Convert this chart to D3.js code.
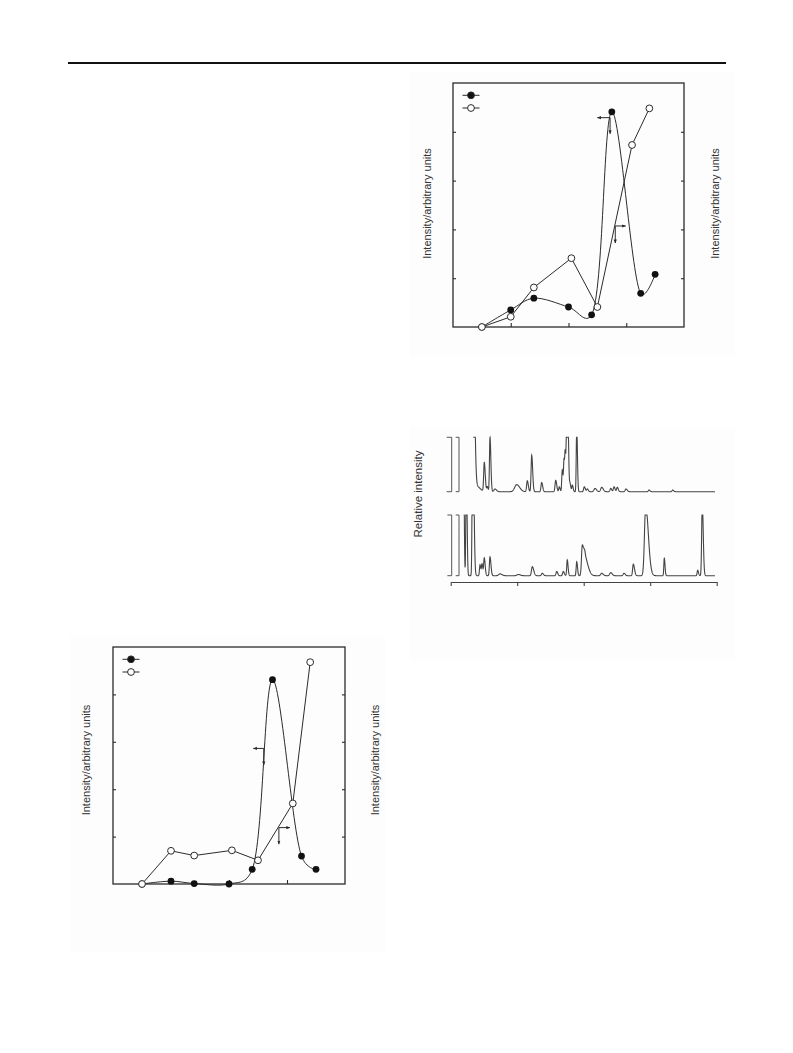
<!DOCTYPE html>
<html><head><meta charset="utf-8">
<script src="https://cdn.jsdelivr.net/npm/d3@7"></script>
<style>body{margin:0;background:#fff} svg{display:block}</style>
</head><body>
<script>
// ================= DATA =================
const xTickValues = [1, 2, 3];
const yTickValues = [1, 2, 3, 4];
const xDomain = [0, 4];
const yDomain = [0, 5];

const filledX = [0.5, 1.0, 1.4, 2.0, 2.4, 2.75, 3.25, 3.5];
const openX   = [0.5, 1.0, 1.4, 2.05, 2.5, 3.1, 3.4];

// upper-right panel
const panelAFilled = [0, 0.35, 0.59, 0.41, 0.25, 4.41, 0.69, 1.08];
const panelAOpen   = [0, 0.21, 0.81, 1.41, 0.41, 3.73, 4.48];
// lower-left panel
const panelBFilled = [0, 0.06, 0.01, 0, 0.31, 4.31, 0.59, 0.31];
const panelBOpen   = [0, 0.70, 0.60, 0.71, 0.50, 1.70, 4.68];

const axisLabel = "Intensity/arbitrary units";
const chromLabel = "Relative intensity";
const chromTicks = [0, 10, 20, 30, 40];

// chromatogram peaks: [retention, relative height, width, tail factor]
const upperPeaks = [
  [3.40, 3.0, 0.08, 2.5], [3.7, 0.12, 0.4, 1.5],
  [5.05, 0.53, 0.09, 1.6], [5.50, 0.09, 0.08, 1.5], [5.91, 1.0, 0.08, 1.6],
  [6.66, 0.05, 0.15, 1.5], [9.92, 0.13, 0.3, 1.5], [11.52, 0.20, 0.1, 1.5],
  [12.18, 0.67, 0.09, 1.6], [13.68, 0.17, 0.1, 1.5], [15.79, 0.21, 0.1, 1.5],
  [16.33, 0.09, 0.08, 1.5], [16.78, 0.40, 0.08, 1.5], [17.04, 0.55, 0.07, 1.5],
  [17.23, 0.65, 0.07, 1.5], [17.44, 1.2, 0.07, 1.5], [17.64, 1.2, 0.07, 1.5],
  [17.94, 0.15, 0.08, 1.5], [18.29, 0.12, 0.08, 1.5], [18.95, 1.2, 0.07, 1.5],
  [20.09, 0.09, 0.1, 1.5], [20.54, 0.05, 0.1, 1.5], [21.70, 0.06, 0.15, 1.5],
  [22.71, 0.08, 0.15, 1.5], [24.06, 0.06, 0.1, 1.5], [24.56, 0.09, 0.1, 1.5],
  [25.05, 0.08, 0.1, 1.5], [26.36, 0.05, 0.12, 1.5], [29.82, 0.03, 0.1, 1.5],
  [33.38, 0.03, 0.1, 1.5]
];
const upperBrackets = [[-0.6, 0.15], [0.75, 1.25]];
const upperEnd = 39.74;

const lowerPeaks = [
  [1.95, 2.0, 0.07, 1.2], [2.35, 2.0, 0.07, 1.5],
  [3.31, 3.0, 0.08, 2.0], [4.41, 0.18, 0.08, 1.5], [4.71, 0.19, 0.08, 1.5],
  [5.05, 0.29, 0.09, 1.5], [5.91, 0.31, 0.09, 1.6], [7.41, 0.03, 0.2, 1.5],
  [10.17, 0.02, 0.2, 1.5], [12.27, 0.15, 0.12, 1.8], [13.77, 0.04, 0.12, 1.5],
  [15.94, 0.07, 0.1, 1.5], [16.93, 0.07, 0.1, 1.5], [17.53, 0.26, 0.08, 1.5],
  [18.95, 0.23, 0.08, 1.5], [19.79, 0.50, 0.12, 2.0], [20.20, 0.28, 0.15, 3.0],
  [22.71, 0.04, 0.15, 1.5], [24.06, 0.05, 0.15, 1.5], [26.06, 0.04, 0.12, 1.5],
  [27.46, 0.19, 0.1, 1.8], [29.32, 1.15, 0.18, 2.2], [32.12, 0.29, 0.07, 1.5],
  [37.14, 0.09, 0.08, 1.5], [37.83, 1.2, 0.09, 1.6]
];
const lowerBrackets = [[-0.5, 0.15], [0.75, 1.25]];
const lowerEnd = 39.74;

// ================= DRAWING =================
const W = 793, H = 1053;
const svg = d3.select("body").append("svg").attr("width", W).attr("height", H)
  .style("font-family", "'Liberation Sans', Arial, sans-serif");

const ink = "#2b2b2b";

const defs = svg.append("defs");
defs.append("marker").attr("id", "ah").attr("viewBox", "0 0 10 10")
  .attr("refX", 9).attr("refY", 5).attr("markerWidth", 4).attr("markerHeight", 4)
  .attr("orient", "auto").append("path").attr("d", "M0,1 L10,5 L0,9 Z").attr("fill", ink);

// faint scanned backgrounds
const bgs = [[410, 72, 325, 285], [410, 427, 325, 233], [70, 636, 315, 316]];
svg.selectAll("rect.bg").data(bgs).join("rect").attr("class", "bg")
  .attr("x", d => d[0]).attr("y", d => d[1]).attr("width", d => d[2]).attr("height", d => d[3])
  .attr("fill", "#fdfdfd");

// header rule
svg.append("rect").attr("x", 68).attr("y", 62).attr("width", 658).attr("height", 2).attr("fill", "#111");

function drawPanel(cfg) {
  const g = svg.append("g");
  const x = d3.scaleLinear().domain(xDomain).range([cfg.left, cfg.left + cfg.width]);
  const y = d3.scaleLinear().domain(yDomain).range([cfg.top + cfg.height, cfg.top]);

  g.append("rect").attr("x", cfg.left).attr("y", cfg.top).attr("width", cfg.width).attr("height", cfg.height)
    .attr("fill", "none").attr("stroke", ink).attr("stroke-width", 1.3);

  const ax = g.append("g").attr("transform", `translate(0,${cfg.top + cfg.height})`)
    .call(d3.axisBottom(x).tickValues(xTickValues).tickSize(-4).tickSizeOuter(0).tickFormat(""));
  const ayR = g.append("g").attr("transform", `translate(${cfg.left + cfg.width},0)`)
    .call(d3.axisRight(y).tickValues(yTickValues).tickSize(-3).tickSizeOuter(0).tickFormat(""));
  const ayL = g.append("g").attr("transform", `translate(${cfg.left},0)`)
    .call(d3.axisLeft(y).tickValues(yTickValues).tickSize(-3).tickSizeOuter(0).tickFormat(""));
  [ax, ayR, ayL].forEach(a => { a.select(".domain").remove(); a.selectAll("line").attr("stroke", ink).attr("stroke-width", 1.1); });

  const fPts = filledX.map((v, i) => [v, cfg.filled[i]]);
  const oPts = openX.map((v, i) => [v, cfg.open[i]]);

  g.append("path").datum(oPts)
    .attr("d", d3.line().x(d => x(d[0])).y(d => y(d[1])))
    .attr("fill", "none").attr("stroke", ink).attr("stroke-width", 1);
  g.append("path").datum(fPts)
    .attr("d", d3.line().x(d => x(d[0])).y(d => y(d[1])).curve(d3.curveCatmullRom.alpha(0.3)))
    .attr("fill", "none").attr("stroke", ink).attr("stroke-width", 1);

  g.selectAll("circle.f").data(fPts).join("circle").attr("class", "f")
    .attr("cx", d => x(d[0])).attr("cy", d => y(d[1])).attr("r", 3.4).attr("fill", "#111");
  g.selectAll("circle.o").data(oPts).join("circle").attr("class", "o")
    .attr("cx", d => x(d[0])).attr("cy", d => y(d[1])).attr("r", 3.4)
    .attr("fill", "#fff").attr("stroke", ink).attr("stroke-width", 1);

  cfg.arrows.forEach(a => {
    g.append("line").attr("x1", x(a.x0)).attr("y1", y(a.y0)).attr("x2", x(a.x1)).attr("y2", y(a.y0))
      .attr("stroke", ink).attr("stroke-width", 1).attr("marker-end", "url(#ah)");
    g.append("line").attr("x1", x(a.x0)).attr("y1", y(a.y0)).attr("x2", x(a.x0)).attr("y2", y(a.y1))
      .attr("stroke", ink).attr("stroke-width", 1).attr("marker-end", "url(#ah)");
  });

  const lx = cfg.left + 18, ly = [cfg.top + 12.3, cfg.top + 25];
  [0, 1].forEach(i => {
    g.append("line").attr("x1", lx - 8.5).attr("x2", lx + 8.5).attr("y1", ly[i]).attr("y2", ly[i])
      .attr("stroke", ink).attr("stroke-width", 1);
    g.append("circle").attr("cx", lx).attr("cy", ly[i]).attr("r", 3.4)
      .attr("fill", i === 0 ? "#111" : "#fff").attr("stroke", ink).attr("stroke-width", 1);
  });

  [cfg.labelL, cfg.labelR].forEach(px => {
    g.append("text").attr("transform", `translate(${px},${cfg.labelY}) rotate(-90)`)
      .attr("text-anchor", "middle").attr("dy", "0.35em").attr("font-size", 11).attr("fill", "#333")
      .text(axisLabel);
  });
}

drawPanel({
  left: 453, top: 83, width: 231, height: 244,
  filled: panelAFilled, open: panelAOpen,
  arrows: [{x0: 2.72, x1: 2.5, y0: 4.29, y1: 3.96}, {x0: 2.81, x1: 2.99, y0: 2.07, y1: 1.72}],
  labelL: 426.7, labelR: 715, labelY: 203.5
});
drawPanel({
  left: 113, top: 647, width: 232, height: 237,
  filled: panelBFilled, open: panelBOpen,
  arrows: [{x0: 2.6, x1: 2.42, y0: 2.86, y1: 2.51}, {x0: 2.86, x1: 3.05, y0: 1.19, y1: 0.84}],
  labelL: 86, labelR: 375, labelY: 760
});

// ---------- chromatograms ----------
const cx = d3.scaleLinear().domain([0, 40]).range([450.7, 716.7]);
const cg = svg.append("g");
cg.append("g").attr("transform", "translate(0,582)")
  .call(d3.axisBottom(cx).tickValues(chromTicks).tickSize(4).tickSizeOuter(0).tickFormat(""))
  .call(a => a.selectAll("path,line").attr("stroke", "#444").attr("stroke-width", 1.1));

function peakValue(peaks, t) {
  let s = 0;
  peaks.forEach(([rt, h, w, tail]) => {
    const sg = t < rt ? w : w * tail;
    s += h * Math.exp(-0.5 * ((t - rt) / sg) ** 2);
  });
  return Math.min(s, 1);
}

function drawTrace(peaks, brackets, tEnd, base, full) {
  const cy = d3.scaleLinear().domain([0, 1]).range([base, base - full]);
  brackets.forEach(([a, b]) => {
    cg.append("path").datum([[a, 1], [b, 1], [b, 0], [a, 0]])
      .attr("d", d3.line().x(d => cx(d[0])).y(d => cy(d[1])))
      .attr("fill", "none").attr("stroke", "#555").attr("stroke-width", 1);
  });
  const start = d3.min(peaks, p => p[0]);
  const ts = d3.range(start, tEnd, 0.02);
  cg.append("path").datum(ts.map(t => [t, peakValue(peaks, t)]))
    .attr("d", d3.line().x(d => cx(d[0])).y(d => cy(d[1])))
    .attr("fill", "none").attr("stroke", "#444").attr("stroke-width", 1.1);
}
drawTrace(upperPeaks, upperBrackets, upperEnd, 491.7, 54.4);
drawTrace(lowerPeaks, lowerBrackets, lowerEnd, 575.7, 60.7);

cg.append("text").attr("transform", "translate(418,494) rotate(-90)")
  .attr("text-anchor", "middle").attr("dy", "0.35em").attr("font-size", 11.5).attr("fill", "#333")
  .text(chromLabel);
</script>
</body></html>
